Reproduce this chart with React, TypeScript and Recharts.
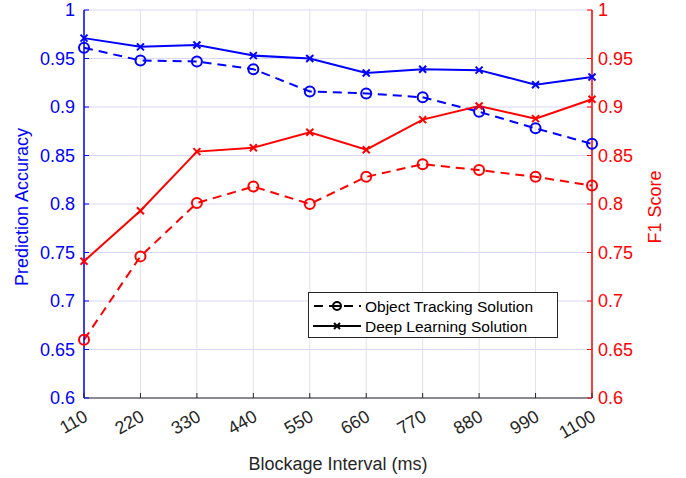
import React from 'react'
import { LineChart, Line, XAxis, YAxis, CartesianGrid, Legend } from 'recharts'

const intervals = [110, 220, 330, 440, 550, 660, 770, 880, 990, 1100]
const yTicks = [0.6, 0.65, 0.7, 0.75, 0.8, 0.85, 0.9, 0.95, 1]

// prediction accuracy (left axis)
const otAccuracy = [0.961, 0.948, 0.947, 0.939, 0.916, 0.914, 0.910, 0.895, 0.878, 0.862]
const dlAccuracy = [0.971, 0.962, 0.964, 0.953, 0.950, 0.935, 0.939, 0.938, 0.923, 0.931]

// F1 score (right axis)
const otF1 = [0.660, 0.746, 0.801, 0.818, 0.800, 0.828, 0.841, 0.835, 0.828, 0.819]
const dlF1 = [0.741, 0.793, 0.854, 0.858, 0.874, 0.856, 0.887, 0.901, 0.888, 0.908]

const data = intervals.map((x, i) => ({
  interval: x,
  otAcc: otAccuracy[i],
  dlAcc: dlAccuracy[i],
  otF1: otF1[i],
  dlF1: dlF1[i],
}))

const BLUE = '#0000ff'
const RED = '#ff0000'
const DARK = '#262626'
const FONT = '"Liberation Sans", Arial, Helvetica, sans-serif'

const fmt = (v: number) => String(Number(v.toFixed(2)))

function CircleDot(color: string) {
  return (p: any) => (
    <circle key={p.index} cx={p.cx} cy={p.cy} r={5} fill="none" stroke={color} strokeWidth={2} />
  )
}

function CrossDot(color: string) {
  return (p: any) => (
    <g key={p.index} stroke={color} strokeWidth={2}>
      <line x1={p.cx - 3.5} y1={p.cy - 3.5} x2={p.cx + 3.5} y2={p.cy + 3.5} />
      <line x1={p.cx - 3.5} y1={p.cy + 3.5} x2={p.cx + 3.5} y2={p.cy - 3.5} />
    </g>
  )
}

function LeftTick({ x, y, payload }: any) {
  return (
    <g>
      <line x1={x + 8} y1={y} x2={x + 13} y2={y} stroke={BLUE} strokeWidth={1} />
      <text x={x - 1} y={y} dy={6} textAnchor="end" fill={BLUE} fontSize={18} fontFamily={FONT}>
        {fmt(payload.value)}
      </text>
    </g>
  )
}

function RightTick({ x, y, payload }: any) {
  return (
    <g>
      <line x1={x - 6} y1={y} x2={x - 11} y2={y} stroke={RED} strokeWidth={1} />
      <text x={x} y={y} dy={6} textAnchor="start" fill={RED} fontSize={18} fontFamily={FONT}>
        {fmt(payload.value)}
      </text>
    </g>
  )
}

function BottomTick({ x, y, payload }: any) {
  const ax = x + 5
  const ay = y + 14
  return (
    <g>
      <line x1={x} y1={y - 8} x2={x} y2={y - 13} stroke={DARK} strokeWidth={1} />
      <text
        x={ax}
        y={ay}
        textAnchor="end"
        fill={DARK}
        fontSize={18}
        fontFamily={FONT}
        transform={`rotate(-30 ${ax} ${ay})`}
      >
        {payload.value}
      </text>
    </g>
  )
}

function TopTick({ x, y }: any) {
  return <line x1={x} y1={y + 8} x2={x} y2={y + 13} stroke={DARK} strokeWidth={1} />
}

// vertical axis title, centred on the axis box
function AxisTitle(text: string, color: string, side: 'left' | 'right') {
  return ({ viewBox }: any) => {
    const cx = side === 'left' ? viewBox.x + 21 : viewBox.x + viewBox.width - 32
    const cy = viewBox.y + viewBox.height / 2 + 3
    const bx = cx + 6.5
    return (
      <text
        x={bx}
        y={cy}
        textAnchor="middle"
        fill={color}
        fontSize={18}
        fontFamily={FONT}
        transform={`rotate(-90 ${bx} ${cy})`}
      >
        {text}
      </text>
    )
  }
}

function LegendBox() {
  return (
    <svg width={250} height={46} style={{ display: 'block' }}>
      <rect x={0.5} y={0.5} width={249} height={45} fill="#fff" stroke={DARK} strokeWidth={1} />
      <line x1={5} y1={14} x2={53} y2={14} stroke="#000" strokeWidth={2} strokeDasharray="9 6" strokeDashoffset={-1} />
      <circle cx={29} cy={14} r={4} fill="#fff" stroke="#000" strokeWidth={2} />
      <line x1={25} y1={14} x2={33} y2={14} stroke="#000" strokeWidth={2} />
      <text x={57} y={19.5} fontSize={15.5} fontFamily={FONT} fill="#000">Object Tracking Solution</text>
      <line x1={5} y1={34} x2={53} y2={34} stroke="#000" strokeWidth={2} />
      <g stroke="#000" strokeWidth={2}>
        <line x1={26} y1={31} x2={32} y2={37} />
        <line x1={26} y1={37} x2={32} y2={31} />
      </g>
      <text x={57} y={39.5} fontSize={15.5} fontFamily={FONT} fill="#000">Deep Learning Solution</text>
    </svg>
  )
}

export default function App() {
  return (
    <div style={{ position: 'absolute', left: 0, top: 0, width: 686, height: 478, background: '#fff' }}>
      <LineChart width={686} height={478} data={data} margin={{ top: 10, right: 0, bottom: 0, left: 0 }}>
        <CartesianGrid yAxisId="left" vertical={false} stroke="#d6d6f6" strokeWidth={1} />
        <CartesianGrid yAxisId="left" horizontal={false} stroke="#e2e2e2" strokeWidth={1} />
        <XAxis
          dataKey="interval"
          type="number"
          domain={[110, 1100]}
          ticks={intervals}
          height={80}
          axisLine={{ stroke: DARK, strokeWidth: 1 }}
          tickLine={false}
          tick={<BottomTick />}
          interval={0}
          label={{ value: 'Blockage Interval (ms)', position: 'insideBottom', offset: 8, fill: DARK, fontSize: 18, fontFamily: FONT }}
        />
        <XAxis
          xAxisId="top"
          orientation="top"
          dataKey="interval"
          type="number"
          domain={[110, 1100]}
          ticks={intervals}
          height={0}
          axisLine={{ stroke: DARK, strokeWidth: 1 }}
          tickLine={false}
          tick={<TopTick />}
          interval={0}
        />
        <YAxis
          yAxisId="left"
          domain={[0.6, 1]}
          ticks={yTicks}
          width={84}
          axisLine={{ stroke: BLUE, strokeWidth: 1.5 }}
          tickLine={false}
          tick={<LeftTick />}
          interval={0}
          label={{ content: AxisTitle('Prediction Accuracy', BLUE, 'left') }}
        />
        <YAxis
          yAxisId="right"
          orientation="right"
          domain={[0.6, 1]}
          ticks={yTicks}
          width={94}
          tickMargin={0}
          axisLine={{ stroke: RED, strokeWidth: 1.5 }}
          tickLine={false}
          tick={<RightTick />}
          interval={0}
          label={{ content: AxisTitle('F1 Score', RED, 'right') }}
        />
        <Line yAxisId="left" dataKey="otAcc" stroke={BLUE} strokeWidth={2} strokeDasharray="9 6" dot={CircleDot(BLUE)} isAnimationActive={false} />
        <Line yAxisId="left" dataKey="dlAcc" stroke={BLUE} strokeWidth={2} dot={CrossDot(BLUE)} isAnimationActive={false} />
        <Line yAxisId="right" dataKey="otF1" stroke={RED} strokeWidth={2} strokeDasharray="9 6" dot={CircleDot(RED)} isAnimationActive={false} />
        <Line yAxisId="right" dataKey="dlF1" stroke={RED} strokeWidth={2} dot={CrossDot(RED)} isAnimationActive={false} />
        <Legend
          layout="horizontal"
          verticalAlign="middle"
          align="center"
          content={() => <LegendBox />}
          wrapperStyle={{ position: 'absolute', left: 308, top: 292, width: 250, height: 46 }}
        />
      </LineChart>
    </div>
  )
}
